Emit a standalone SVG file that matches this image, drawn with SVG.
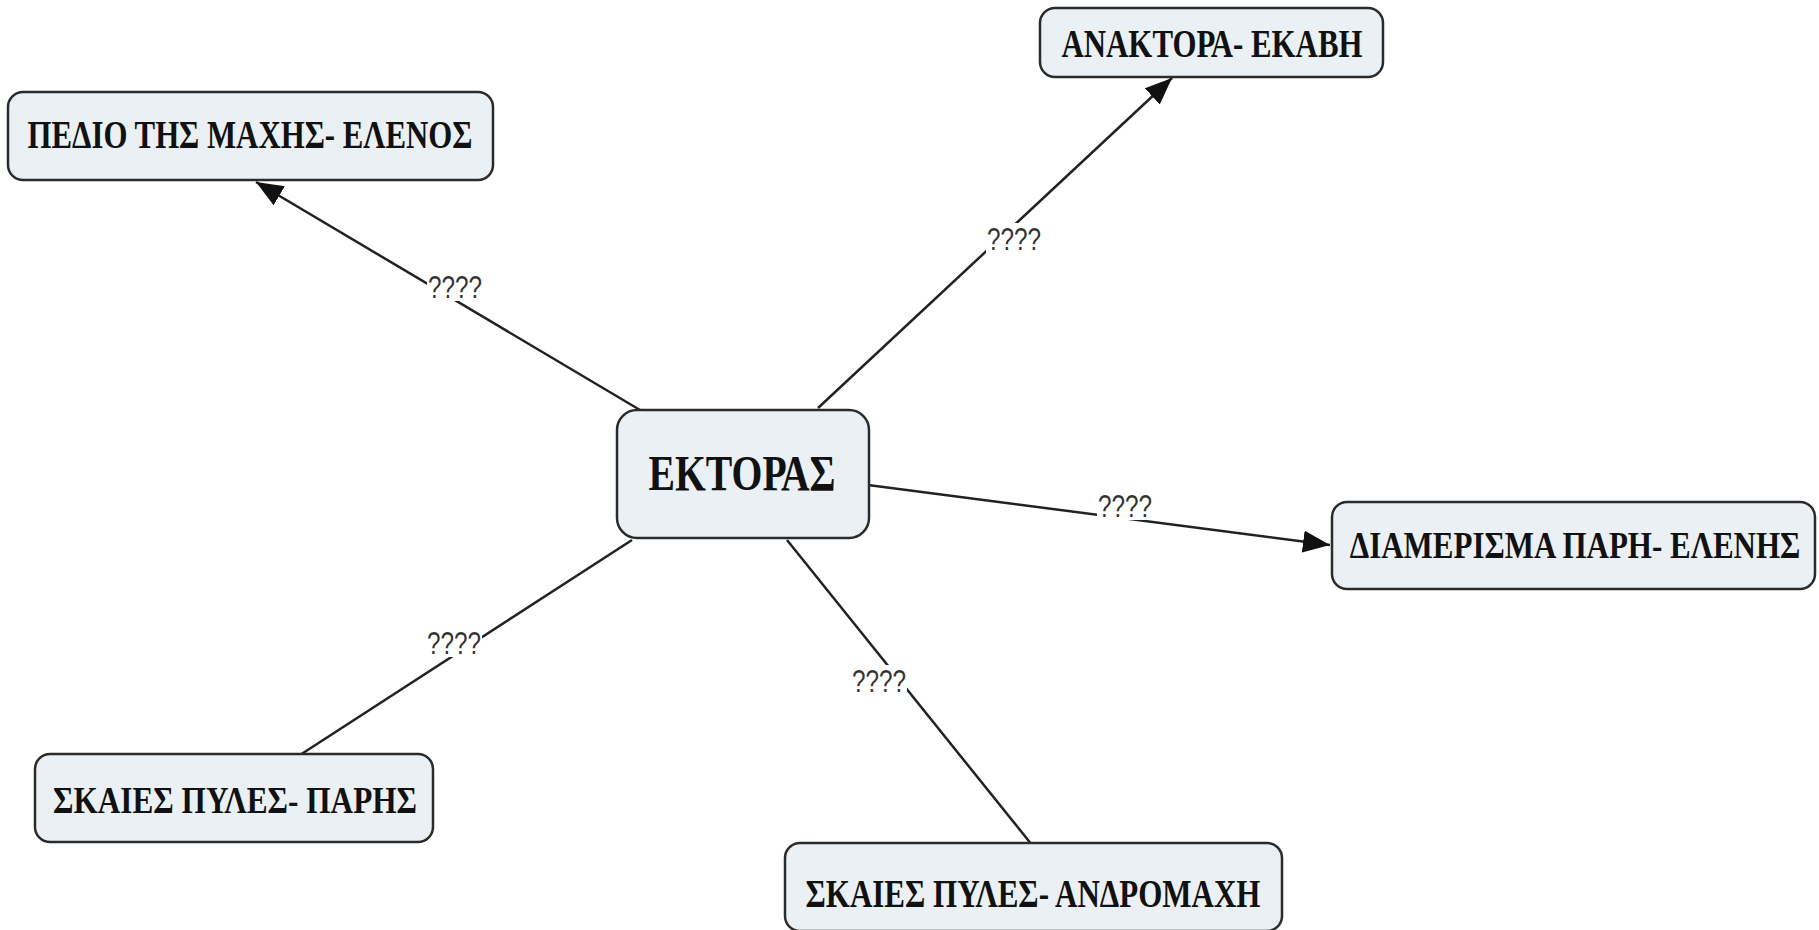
<svg xmlns="http://www.w3.org/2000/svg" width="1819" height="930" viewBox="0 0 1819 930">
<style>
.node rect{fill:#eaf0f3;stroke:#2b2b2b;stroke-width:2.5}
.node text{font-family:"Liberation Serif","Times New Roman",serif;font-weight:bold;fill:#111;text-anchor:middle}
.conn line{stroke:#222;stroke-width:2.5}
.lbl rect{fill:#fff}
.lbl text{font-family:"Liberation Sans",Arial,sans-serif;font-size:32px;fill:#333;text-anchor:middle}
</style>
<defs>
<marker id="arr" markerUnits="userSpaceOnUse" markerWidth="30" markerHeight="24" refX="27" refY="11" orient="auto">
<path d="M0,0 L27,11 L0,22 Z" fill="#111"/>
</marker>
</defs>
<rect width="1819" height="930" fill="#fff"/>
<g id="connectors" class="conn">
<line x1="640" y1="410" x2="256" y2="182" marker-end="url(#arr)"/>
<line x1="818" y1="408" x2="1172" y2="78" marker-end="url(#arr)"/>
<line x1="868" y1="485" x2="1330" y2="545" marker-end="url(#arr)"/>
<line x1="632" y1="540" x2="300" y2="755"/>
<line x1="787" y1="540" x2="1032" y2="845"/>
<g class="lbl">
<rect x="427" y="271" width="56" height="30"/><text x="455" y="298" textLength="54" lengthAdjust="spacingAndGlyphs">????</text>
<rect x="986" y="223" width="56" height="30"/><text x="1014" y="250" textLength="54" lengthAdjust="spacingAndGlyphs">????</text>
<rect x="1097" y="490" width="56" height="30"/><text x="1125" y="517" textLength="54" lengthAdjust="spacingAndGlyphs">????</text>
<rect x="426" y="627" width="56" height="30"/><text x="454" y="654" textLength="54" lengthAdjust="spacingAndGlyphs">????</text>
<rect x="851" y="665" width="56" height="30"/><text x="879" y="692" textLength="54" lengthAdjust="spacingAndGlyphs">????</text>
</g>
</g>
<g id="n-ektoras" class="node">
<rect x="617" y="410" width="252" height="128" rx="20"/>
<text x="742" y="490" font-size="50" textLength="187" lengthAdjust="spacingAndGlyphs">ΕΚΤΟΡΑΣ</text>
</g>
<g id="n-pedio" class="node">
<rect x="8" y="92" width="485" height="88" rx="15"/>
<text x="250" y="148" font-size="39" textLength="445" lengthAdjust="spacingAndGlyphs">ΠΕΔΙΟ ΤΗΣ ΜΑΧΗΣ- ΕΛΕΝΟΣ</text>
</g>
<g id="n-anaktora" class="node">
<rect x="1040" y="8" width="343" height="69" rx="15"/>
<text x="1212" y="57" font-size="39" textLength="301" lengthAdjust="spacingAndGlyphs">ΑΝΑΚΤΟΡΑ- ΕΚΑΒΗ</text>
</g>
<g id="n-diamerisma" class="node">
<rect x="1332" y="502" width="483" height="87" rx="15"/>
<text transform="translate(1575,558) scale(1,1.25)" font-size="31">ΔΙΑΜΕΡΙΣΜΑ ΠΑΡΗ- ΕΛΕΝΗΣ</text>
</g>
<g id="n-skaies-paris" class="node">
<rect x="35" y="754" width="398" height="88" rx="15"/>
<text x="235" y="813" font-size="37" textLength="364" lengthAdjust="spacingAndGlyphs">ΣΚΑΙΕΣ ΠΥΛΕΣ- ΠΑΡΗΣ</text>
</g>
<g id="n-skaies-andromachi" class="node">
<rect x="785" y="843" width="497" height="88" rx="15"/>
<text x="1033" y="907" font-size="39" textLength="455" lengthAdjust="spacingAndGlyphs">ΣΚΑΙΕΣ ΠΥΛΕΣ- ΑΝΔΡΟΜΑΧΗ</text>
</g>
</svg>
